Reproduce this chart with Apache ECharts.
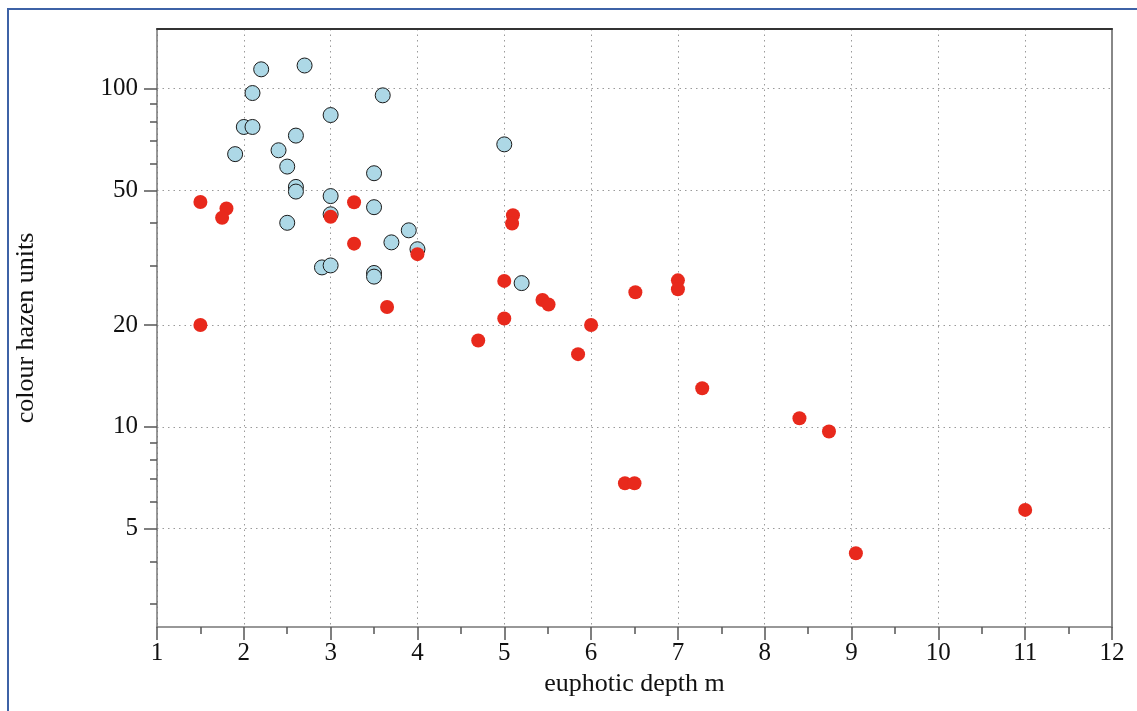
<!DOCTYPE html>
<html>
<head>
<meta charset="utf-8">
<title>Colour vs euphotic depth</title>
<script src="https://cdn.jsdelivr.net/npm/echarts@6/dist/echarts.min.js"></script>
<style>
  html, body { margin: 0; padding: 0; background: #ffffff; }
  #chart { width: 1137px; height: 711px; }
</style>
</head>
<body>
<div id="chart"></div>
<script>
// Euphotic depth (m) and colour (Hazen units), first group (light blue)
const blueDepth  = [2.2, 2.7, 2.1, 3.6, 3.0, 2.0, 2.1, 2.6, 1.9, 2.4, 2.5, 3.5, 2.6, 2.6,
                    3.0, 3.5, 2.5, 3.9, 3.7, 4.0, 2.9, 3.0, 3.5, 3.5, 3.0, 5.0, 5.2];
const blueColour = [114, 117, 97, 95.5, 83.5, 77, 77, 72.6, 64, 65.7, 58.8, 56.2, 51.2, 49.6,
                    48.1, 44.6, 40.1, 38.1, 35.1, 33.5, 29.6, 30.0, 28.5, 27.8, 42.5, 68.4, 26.6];

// Second group (red)
const redDepth  = [1.5, 1.8, 1.75, 1.5, 3.0, 3.27, 3.27, 4.0, 3.65, 5.1, 5.09, 5.0, 5.0, 4.7,
                   5.44, 5.51, 6.0, 6.51, 7.0, 7.0, 5.85, 7.28, 8.4, 8.74, 6.39, 6.5, 11.0, 9.05];
const redColour = [46.2, 44.2, 41.5, 20.0, 41.8, 46.1, 34.8, 32.4, 22.6, 42.2, 39.9, 27.0, 20.9, 18.0,
                   23.7, 23.0, 20.0, 25.0, 27.1, 25.5, 16.4, 13.0, 10.6, 9.69, 6.81, 6.81, 5.68, 4.23];

// Axis ticks
const xTicks = [1, 2, 3, 4, 5, 6, 7, 8, 9, 10, 11, 12];
const yMajorTicks = [5, 10, 20, 50, 100];
const yMinorTicks = [3, 4, 6, 7, 8, 9, 30, 40, 60, 70, 80, 90];
const yRange = [2.56, 150];

const FONT = '"Liberation Serif", "DejaVu Serif", serif';

function pairs(xs, ys) {
  return xs.map((x, i) => [x, ys[i]]);
}

const chart = echarts.init(document.getElementById('chart'), null, { renderer: 'canvas' });

const dotted = { color: '#9a9a9a', width: 1, type: [1.5, 4] };

chart.setOption({
  animation: false,
  backgroundColor: '#ffffff',
  graphic: [{
    type: 'rect',
    shape: { x: 8, y: 9, width: 1160, height: 760 },
    style: { fill: null, stroke: '#3d62a6', lineWidth: 2 },
    silent: true
  }],
  grid: { left: 157, right: 25, top: 29, bottom: 84, containLabel: false },
  xAxis: [{
    type: 'value',
    min: xTicks[0],
    max: xTicks[xTicks.length - 1],
    interval: 1,
    name: 'euphotic depth m',
    nameLocation: 'middle',
    nameGap: 43,
    nameTextStyle: { fontFamily: FONT, fontSize: 26, color: '#111' },
    axisLine: { show: true, lineStyle: { color: '#777', width: 1.5 } },
    axisTick: { show: true, length: 13, lineStyle: { color: '#555', width: 1.5 } },
    minorTick: { show: true, splitNumber: 2, length: 7, lineStyle: { color: '#555', width: 1.5 } },
    axisLabel: { fontFamily: FONT, fontSize: 25, color: '#111', margin: 14 },
    splitLine: { show: true, lineStyle: dotted }
  }, {
    type: 'value',
    position: 'top',
    min: xTicks[0],
    max: xTicks[xTicks.length - 1],
    axisLine: { show: true, lineStyle: { color: '#333', width: 2 } },
    axisTick: { show: false },
    axisLabel: { show: false },
    splitLine: { show: false }
  }],
  yAxis: [{
    type: 'log',
    logBase: 10,
    min: yRange[0],
    max: yRange[1],
    position: 'left',
    name: 'colour hazen units',
    nameLocation: 'middle',
    nameGap: 118,
    nameTextStyle: { fontFamily: FONT, fontSize: 26, color: '#111' },
    axisLine: { show: true, lineStyle: { color: '#777', width: 1.5 } },
    axisTick: { show: true, length: 13, customValues: yMajorTicks, lineStyle: { color: '#555', width: 1.5 } },
    axisLabel: { fontFamily: FONT, fontSize: 25, color: '#111', margin: 19, customValues: yMajorTicks },
    splitLine: { show: true, lineStyle: dotted }
  }, {
    type: 'log',
    logBase: 10,
    min: yRange[0],
    max: yRange[1],
    position: 'left',
    axisLine: { show: false },
    axisTick: { show: true, length: 7, customValues: yMinorTicks, lineStyle: { color: '#555', width: 1.5 } },
    axisLabel: { show: false },
    splitLine: { show: false }
  }, {
    type: 'log',
    logBase: 10,
    min: yRange[0],
    max: yRange[1],
    position: 'right',
    axisLine: { show: true, lineStyle: { color: '#888', width: 2 } },
    axisTick: { show: false },
    axisLabel: { show: false },
    splitLine: { show: false }
  }],
  series: [{
    name: 'blue',
    type: 'scatter',
    symbol: 'circle',
    symbolSize: 15,
    itemStyle: { color: '#add8e6', borderColor: '#1a1a1a', borderWidth: 1, opacity: 1 },
    data: pairs(blueDepth, blueColour),
    z: 2
  }, {
    name: 'red',
    type: 'scatter',
    symbol: 'circle',
    symbolSize: 14,
    itemStyle: { color: '#e8291c', opacity: 1 },
    data: pairs(redDepth, redColour),
    z: 3
  }]
});
</script>
</body>
</html>
